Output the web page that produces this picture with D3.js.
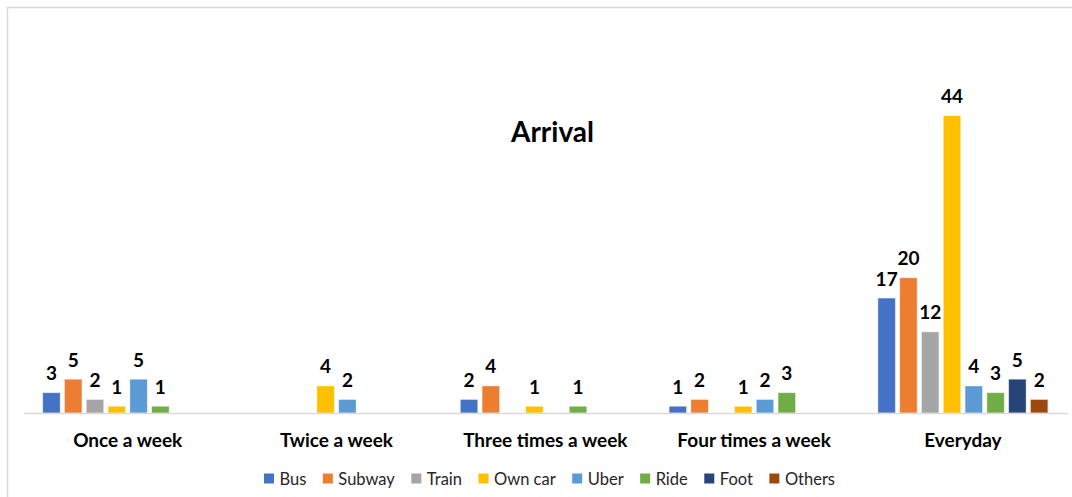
<!DOCTYPE html>
<html>
<head>
<meta charset="utf-8">
<script src="https://cdn.jsdelivr.net/npm/d3@7"></script>
<style>
  html, body { margin: 0; padding: 0; background: #fff; }
  svg { display: block; font-family: Lato, "Open Sans", sans-serif; }
</style>
</head>
<body>
<svg id="chart" width="1072" height="497"></svg>
<script>
const categories = ["Once a week", "Twice a week", "Three times a week", "Four times a week", "Everyday"];
const seriesNames = ["Bus", "Subway", "Train", "Own car", "Uber", "Ride", "Foot", "Others"];
const seriesColors = ["#4472C4", "#ED7D31", "#A5A5A5", "#FFC000", "#5B9BD5", "#70AD47", "#264478", "#9E480E"];
const bus    = [3, null, 2, 1, 17];
const subway = [5, null, 4, 2, 20];
const train  = [2, null, null, null, 12];
const ownCar = [1, 4, 1, 1, 44];
const uber   = [5, 2, null, 2, 4];
const ride   = [1, null, 1, 3, 3];
const foot   = [null, null, null, null, 5];
const others = [null, null, null, null, 2];
const title = "Arrival";

const seriesValues = [bus, subway, train, ownCar, uber, ride, foot, others];

const svg = d3.select("#chart");

// chart border
svg.append("rect")
  .attr("x", 7.5).attr("y", 7.5)
  .attr("width", 1080).attr("height", 500)
  .attr("fill", "#fff")
  .attr("stroke", "#d9d9d9").attr("stroke-width", 1.5);

const x0 = d3.scaleBand().domain(categories).range([23.3, 1067.3]).paddingInner(0.186).paddingOuter(0.093);
const x1 = d3.scaleBand().domain(seriesNames).range([0, x0.bandwidth()]).paddingInner(0.2).paddingOuter(0);
const y = d3.scaleLinear().domain([0, 50]).range([413, 75]);

// title
svg.append("text")
  .attr("x", 552.5).attr("y", 142)
  .attr("text-anchor", "middle")
  .attr("font-size", 28).attr("font-weight", "bold").attr("fill", "#000")
  .text(title);

// bars
const data = [];
categories.forEach((c, ci) => {
  seriesNames.forEach((s, si) => {
    const v = seriesValues[si][ci];
    if (v !== null) data.push({ c, s, v, color: seriesColors[si] });
  });
});

const g = svg.append("g");
g.selectAll("rect.bar").data(data).join("rect")
  .attr("class", "bar")
  .attr("x", d => x0(d.c) + x1(d.s))
  .attr("y", d => y(d.v))
  .attr("width", x1.bandwidth())
  .attr("height", d => y(0) - y(d.v))
  .attr("fill", d => d.color)
  .attr("stroke", "#ffffff").attr("stroke-opacity", 0.5).attr("stroke-width", 0.8);

// baseline axis
const xAxis = d3.axisBottom(x0).tickSize(0).tickPadding(0);
const axG = svg.append("g").attr("transform", `translate(0,${y(0)})`).call(xAxis);
axG.select(".domain").attr("stroke", "#d9d9d9").attr("stroke-width", 1.5);
axG.selectAll(".tick text")
  .attr("y", 34).attr("dy", 0)
  .attr("font-family", "Lato, 'Open Sans', sans-serif")
  .attr("font-size", 19).attr("font-weight", "bold").attr("fill", "#000");

// data labels
g.selectAll("text.lbl").data(data).join("text")
  .attr("class", "lbl")
  .attr("x", d => x0(d.c) + x1(d.s) + x1.bandwidth() / 2)
  .attr("y", d => y(d.v) - 12.5)
  .attr("text-anchor", "middle")
  .attr("font-size", 19).attr("font-weight", "bold").attr("fill", "#000")
  .text(d => d.v);

// legend
const leg = svg.append("g").attr("transform", "translate(0,485)");
let lx = 264;
seriesNames.forEach((s, i) => {
  leg.append("rect")
    .attr("x", lx).attr("y", -11.5).attr("width", 10).attr("height", 10)
    .attr("fill", seriesColors[i]);
  const t = leg.append("text")
    .attr("x", lx + 15.5).attr("y", 0)
    .attr("font-size", 16.5).attr("fill", "#262626")
    .text(s);
  lx += 15.5 + t.node().getComputedTextLength() + 16.5;
});
</script>
</body>
</html>
